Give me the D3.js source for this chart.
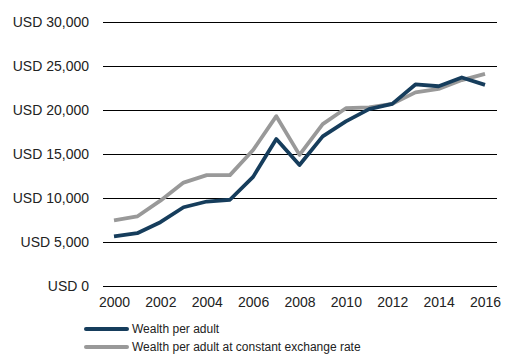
<!DOCTYPE html>
<html><head><meta charset="utf-8">
<script src="https://cdn.jsdelivr.net/npm/d3@7"></script>
<style>body{margin:0;background:#fff}svg{display:block;font-family:"Liberation Sans",Arial,sans-serif}</style>
</head><body>
<svg id="c" width="528" height="363"></svg>
<script>
const years = [2000,2001,2002,2003,2004,2005,2006,2007,2008,2009,2010,2011,2012,2013,2014,2015,2016];
const wealth = [5650,6000,7250,8950,9600,9800,12400,16700,13750,17000,18700,20100,20700,22900,22700,23700,22850];
const wealthConst = [7450,7900,9700,11750,12600,12600,15450,19300,14900,18400,20200,20300,20700,22000,22400,23400,24100];
const yTicks = [0,5000,10000,15000,20000,25000,30000];
const xTicks = [2000,2002,2004,2006,2008,2010,2012,2014,2016];
const seriesNames = ["Wealth per adult","Wealth per adult at constant exchange rate"];
const colors = ["#163d5c","#999999"];

const svg = d3.select("#c");
const x = d3.scaleLinear().domain([2000,2016]).range([114,485]);
const y = d3.scaleLinear().domain([0,30000]).range([286,22]);

const fmt = v => "USD " + d3.format(",")(v);
const yAxis = d3.axisLeft(y).tickValues(yTicks).tickSize(0).tickPadding(0).tickFormat(fmt);
const gy = svg.append("g").attr("transform","translate(89,0)").call(yAxis);
gy.select(".domain").remove();
gy.selectAll("text").attr("font-size",14).attr("fill","#222").attr("font-family","Liberation Sans, Arial, sans-serif").attr("dy","0.35em");

svg.append("g").selectAll("line").data(yTicks).join("line")
  .attr("x1",103).attr("x2",497).attr("y1",d=>Math.round(y(d))+0.5).attr("y2",d=>Math.round(y(d))+0.5)
  .attr("stroke","#000").attr("stroke-width",1);

const xAxis = d3.axisBottom(x).tickValues(xTicks).tickSize(0).tickPadding(0).tickFormat(d3.format("d"));
const gx = svg.append("g").attr("transform","translate(0,297)").call(xAxis);
gx.select(".domain").remove();
gx.selectAll("text").attr("font-size",14).attr("fill","#222").attr("font-family","Liberation Sans, Arial, sans-serif").attr("dy","0.71em");

const line = d3.line().x((d,i)=>x(years[i])).y(d=>y(d));
svg.append("path").datum(wealthConst).attr("d",line).attr("fill","none").attr("stroke",colors[1]).attr("stroke-width",3.8).attr("stroke-linejoin","round");
svg.append("path").datum(wealth).attr("d",line).attr("fill","none").attr("stroke",colors[0]).attr("stroke-width",3.8).attr("stroke-linejoin","round");

const leg = svg.append("g");
seriesNames.forEach((n,i)=>{
  const ly = 329 + i*18;
  leg.append("line").attr("x1",86).attr("x2",127).attr("y1",ly).attr("y2",ly).attr("stroke",colors[i]).attr("stroke-width",4).attr("stroke-linecap","round");
  leg.append("text").attr("x",132).attr("y",ly).attr("dy","0.35em").attr("font-size",12).attr("fill","#222").text(n);
});
</script>
</body></html>
